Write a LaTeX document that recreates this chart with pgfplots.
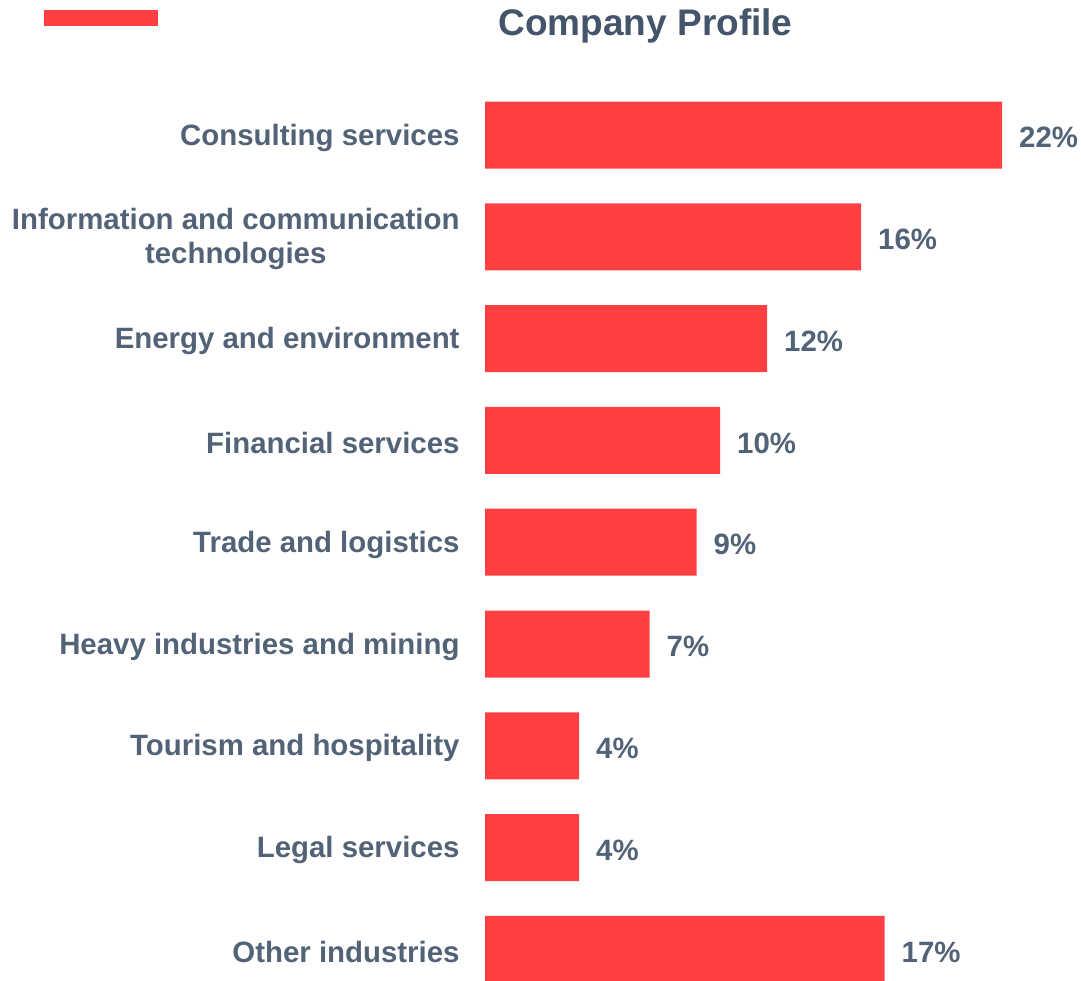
\documentclass[border=0pt]{standalone}
\usepackage{fontspec}
\setmainfont{Liberation Sans}
\usepackage{pgfplots}
\pgfplotsset{compat=1.18}
\definecolor{barred}{HTML}{FF4043}
\definecolor{txt}{HTML}{526378}
\definecolor{ttl}{HTML}{44546A}
\begin{document}
\begin{tikzpicture}[x=1pt,y=1pt]
\useasboundingbox (0,0) rectangle (1081,981);
\fill[barred] (44,955) rectangle (158,971);
\node[anchor=base, font=\bfseries\fontsize{37}{40}\selectfont, text=ttl, inner sep=0pt] at (645.5,945) {Company Profile};
\begin{axis}[
  at={(485pt,-19.3pt)}, anchor=south west,
  width=587.5pt, height=916.2pt, scale only axis,
  xbar,
  xmin=0, xmax=25, ymin=-0.5, ymax=8.5, y dir=reverse,
  axis x line=none,
  y axis line style={draw=none},
  ytick style={draw=none},
  ytick={0,1,2,3,4,5,6,7,8},
  yticklabels={Consulting services,{Information and communication\\technologies},Energy and environment,Financial services,Trade and logistics,Heavy industries and mining,Tourism and hospitality,Legal services,Other industries},
  yticklabel style={align=center, font=\bfseries\fontsize{29.4}{34}\selectfont, text=txt, inner sep=0pt, xshift=-21pt, yshift=-2.5pt},
  clip=false,
]
\addplot[fill=barred, draw=none, bar width=67pt,
  nodes near coords, point meta=explicit symbolic,
  nodes near coords style={font=\bfseries\fontsize{29.4}{34}\selectfont, text=txt, anchor=west, inner sep=0pt, xshift=17pt, yshift=-2.5pt}]
coordinates {(22,0)[22\%] (16,1)[16\%] (12,2)[12\%] (10,3)[10\%] (9,4)[9\%] (7,5)[7\%] (4,6)[4\%] (4,7)[4\%] (17,8)[17\%]};
\end{axis}
\end{tikzpicture}
\end{document}
